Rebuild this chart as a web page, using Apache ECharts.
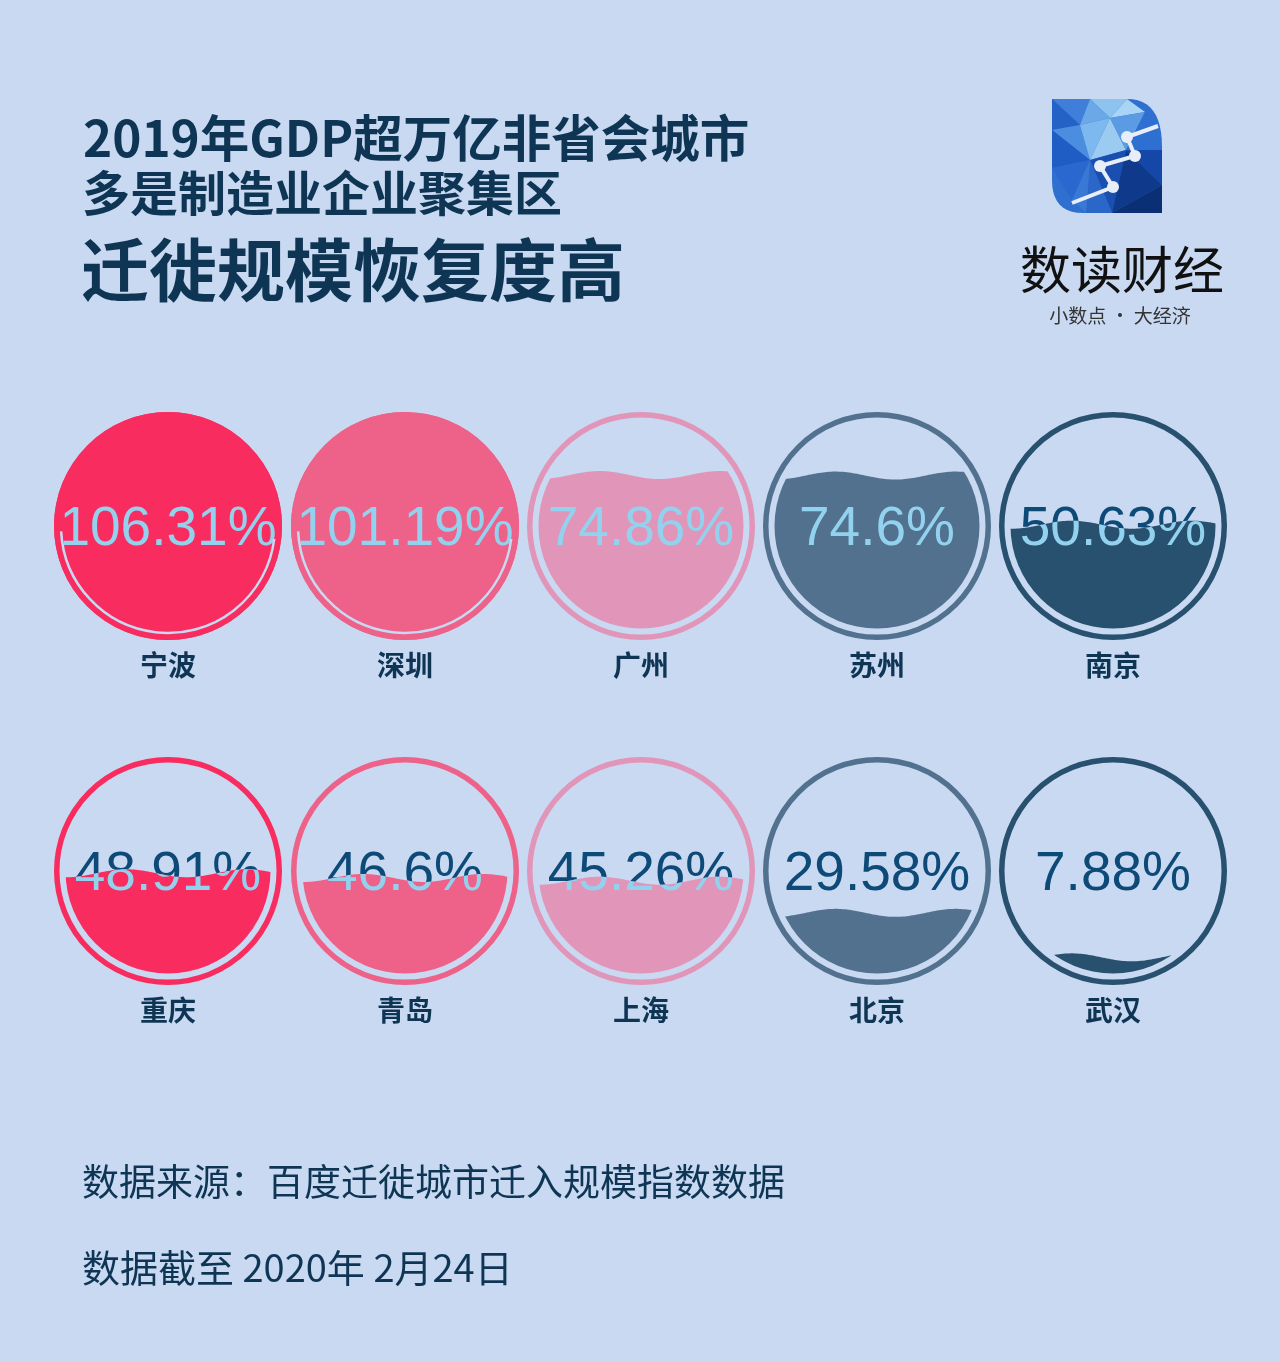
<!DOCTYPE html>
<html><head><meta charset="utf-8">
<script src="https://cdn.jsdelivr.net/npm/echarts@6/dist/echarts.min.js"></script>
<style>html,body{margin:0;padding:0;background:#c8d9f1;} #c{width:1280px;height:1361px;}</style>
</head><body><div id="c"></div>
<script>
// ---- data ----
const cities = ['宁波','深圳','广州','苏州','南京','重庆','青岛','上海','北京','武汉'];
const values = [106.31, 101.19, 74.86, 74.6, 50.63, 48.91, 46.6, 45.26, 29.58, 7.88];
const titleLines = ['2019年GDP超万亿非省会城市', '多是制造业企业聚集区', '迁徙规模恢复度高'];
const sourceNote = '数据来源：百度迁徙城市迁入规模指数数据';
const dateNote = '数据截至 2020年 2月24日';
const brandName = '数读财经';
const brandSlogan = '小数点 · 大经济';

// ---- style / layout ----
const BG = '#c8d9f1';
const palette = ['#f92c5f', '#ee6189', '#e195b8', '#51718f', '#28506f'];
const TEXT_DARK = '#0e4a78';
const TEXT_LIGHT = '#93d2ee';
const LABEL_COLOR = '#0f3555';
const colX = [168, 405, 641, 877, 1113];
const rowY = [526, 871];
const R = 114, BW = 5.5, RIN = 102.5;
const WAVE_AMP = 4, WAVE_LEN = 120;

function renderItem(params, api) {
  const i = params.dataIndex;
  const v = api.value(1);
  const col = i % 5, row = Math.floor(i / 5);
  const cx = colX[col], cy = rowY[row];
  const color = palette[col];
  const frac = v / 100;
  const full = frac >= 1;
  const clipR = full ? R : RIN;
  const level = cy + clipR - frac * 2 * clipR;
  const pts = [];
  const x0 = cx - R - 20, x1 = cx + R + 20;
  for (let x = x0; x <= x1; x += 2) {
    pts.push([x, level + WAVE_AMP * Math.sin(2 * Math.PI * (x - cx) / WAVE_LEN + 0.6)]);
  }
  pts.push([x1, cy + R + 30]);
  pts.push([x0, cy + R + 30]);
  const label = v + '%';
  const font = { fontSize: 55, fontFamily: '"Liberation Sans", Arial, sans-serif' };
  const ty = cy + 4;
  const children = [
    { type: 'circle', shape: { cx: cx, cy: cy, r: R - BW / 2 },
      style: { fill: 'none', stroke: color, lineWidth: BW } },
    { type: 'text', style: Object.assign({ text: label, x: cx, y: ty, align: 'center', verticalAlign: 'middle', fill: TEXT_DARK }, font) },
    { type: 'group',
      clipPath: { type: 'circle', shape: { cx: cx, cy: cy, r: clipR } },
      children: [
        { type: 'polygon', shape: { points: pts }, style: { fill: color } }
      ] },
    { type: 'group',
      clipPath: { type: 'polygon', shape: { points: pts } },
      children: [
        { type: 'text', style: Object.assign({ text: label, x: cx, y: ty, align: 'center', verticalAlign: 'middle', fill: TEXT_LIGHT }, font) }
      ] },
    { type: 'text', style: { text: cities[i], x: cx, y: cy + 139, align: 'center', verticalAlign: 'middle',
      fill: LABEL_COLOR, fontSize: 28, fontWeight: 'bold', fontFamily: '"Noto Sans CJK SC", sans-serif' } }
  ];
  if (full) {
    children.push({ type: 'arc', shape: { cx: cx, cy: cy, r: R - 7, startAngle: 0.12, endAngle: Math.PI - 0.05, clockwise: true },
      style: { fill: 'none', stroke: BG, lineWidth: 2.5 } });
  }
  return { type: 'group', children: children };
}

// ---- logo decoration ----
function P(x, y) { return [x, y]; }
function quad(p0, c, p1, n) {
  const out = [];
  for (let k = 0; k <= n; k++) {
    const t = k / n, u = 1 - t;
    out.push([u * u * p0[0] + 2 * u * t * c[0] + t * t * p1[0], u * u * p0[1] + 2 * u * t * c[1] + t * t * p1[1]]);
  }
  return out;
}
const logoOutline = [[1052, 99]].concat(quad([1127, 99], [1162, 99], [1162, 147], 12))
  .concat([[1162, 213]]).concat(quad([1083, 213], [1052, 213], [1052, 180], 10));
const A = P(1052, 99), B = P(1090, 99), C = P(1127, 99), D = P(1052, 130), E = P(1080, 125), F = P(1110, 118),
  G = P(1145, 112), H = P(1162, 150), I = P(1052, 168), J = P(1090, 160), K = P(1126, 150), L = P(1162, 185),
  M = P(1072, 200), N = P(1112, 213), O = P(1162, 213), Pp = P(1086, 213);
const tris = [
  [A, B, E, '#3f7fd9'], [A, E, D, '#2462c8'], [B, C, F, '#8cc3ef'], [B, F, E, '#6aa8e8'], [C, G, F, '#a8d4f5'],
  [D, E, J, '#4b8ee0'], [D, J, I, '#1f5cc4'], [E, F, J, '#7db8ee'], [F, K, J, '#9ccbf2'], [F, G, K, '#5b9be3'],
  [G, H, K, '#2e6fd2'], [I, J, M, '#2a68cf'], [J, K, N, '#1a4fb0'], [J, N, Pp, '#2b66c9'], [J, Pp, M, '#3a78d6'],
  [K, H, L, '#1447a8'], [K, L, N, '#0f3a8c'], [L, O, N, '#0a2f75']
];
const logoEls = [
  { type: 'polygon', shape: { points: logoOutline }, style: { fill: '#2f6fd0' } }
];
tris.forEach(t => logoEls.push({ type: 'polygon', shape: { points: [t[0], t[1], t[2]] }, style: { fill: t[3] } }));
logoEls.push({ type: 'polyline', shape: { points: [[1072, 203], [1113, 187], [1100, 166], [1135, 156], [1127, 137], [1158, 126]] },
  style: { stroke: '#e8eef8', lineWidth: 4, fill: null } });
[[1113, 187], [1100, 166], [1135, 156], [1127, 137]].forEach(p =>
  logoEls.push({ type: 'circle', shape: { cx: p[0], cy: p[1], r: 6 }, style: { fill: '#e8eef8' } }));

const cjk = '"Noto Sans CJK SC", sans-serif';
const graphics = logoEls.concat([
  { type: 'text', style: { text: titleLines[0], x: 83, y: 138, verticalAlign: 'middle', fill: LABEL_COLOR, fontSize: 49.5, fontWeight: 'bold', fontFamily: cjk } },
  { type: 'text', style: { text: titleLines[1], x: 82, y: 193, verticalAlign: 'middle', fill: LABEL_COLOR, fontSize: 48, fontWeight: 'bold', fontFamily: cjk } },
  { type: 'text', style: { text: titleLines[2], x: 81, y: 270, verticalAlign: 'middle', fill: LABEL_COLOR, fontSize: 68, fontWeight: 'bold', fontFamily: cjk } },
  { type: 'text', style: { text: brandName, x: 1122, y: 270, align: 'center', verticalAlign: 'middle', fill: '#111', fontSize: 51, fontWeight: 400, fontFamily: cjk } },
  { type: 'text', style: { text: brandSlogan, x: 1120, y: 316, align: 'center', verticalAlign: 'middle', fill: '#333', fontSize: 19, fontFamily: cjk } },
  { type: 'text', style: { text: sourceNote, x: 82, y: 1182, verticalAlign: 'middle', fill: LABEL_COLOR, fontSize: 37, fontFamily: cjk } },
  { type: 'text', style: { text: dateNote, x: 82, y: 1268, verticalAlign: 'middle', fill: LABEL_COLOR, fontSize: 38, fontFamily: cjk } }
]);

const chart = echarts.init(document.getElementById('c'), null, { renderer: 'canvas' });
chart.setOption({
  backgroundColor: BG,
  animation: false,
  graphic: { elements: graphics },
  series: [{
    type: 'custom',
    coordinateSystem: 'none',
    renderItem: renderItem,
    data: values.map((v, i) => [i, v])
  }]
});
</script></body></html>
